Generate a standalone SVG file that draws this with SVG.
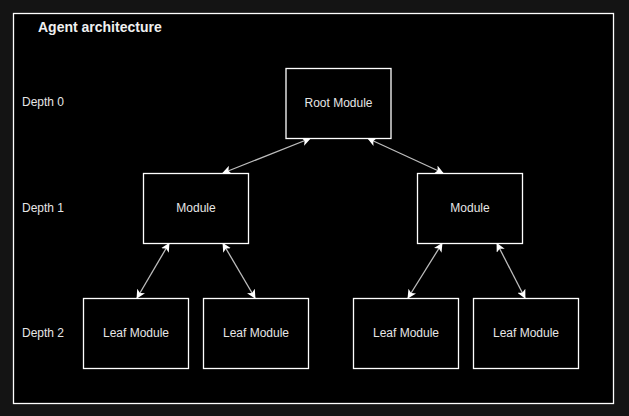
<svg xmlns="http://www.w3.org/2000/svg" width="629" height="416" viewBox="0 0 629 416">
<style>
.box{fill:#000;stroke:#fff;stroke-width:1.3}
.lbl{font-family:"Liberation Sans",Arial,sans-serif;font-size:12px;fill:#e6e6e6;text-anchor:middle;dominant-baseline:central}
.dep{font-family:"Liberation Sans",Arial,sans-serif;font-size:12px;fill:#e6e6e6;dominant-baseline:central}
.edge{stroke:#bdbdbd;stroke-width:1.3;fill:none;marker-start:url(#ah);marker-end:url(#ah)}
</style>
<defs>
<marker id="ah" viewBox="0 0 10 10" refX="9" refY="5" markerWidth="9" markerHeight="9" markerUnits="userSpaceOnUse" orient="auto-start-reverse">
<path d="M0,0 L10,5 L0,10 L2.5,5 Z" fill="#fff"/>
</marker>
</defs>
<rect x="0" y="0" width="629" height="416" fill="#141414"/>
<g id="container">
<rect x="13.5" y="13.5" width="600" height="390" fill="#000" stroke="#fff" stroke-width="1.3"/>
<text x="38" y="27" font-family="Liberation Sans,Arial,sans-serif" font-size="14" font-weight="bold" fill="#f0f0f0" dominant-baseline="central">Agent architecture</text>
</g>
<g id="depth-labels">
<text class="dep" x="22" y="102">Depth 0</text>
<text class="dep" x="22" y="208">Depth 1</text>
<text class="dep" x="22" y="333">Depth 2</text>
</g>
<g id="edges">
<line class="edge" x1="310" y1="138.5" x2="223" y2="173"/>
<line class="edge" x1="368" y1="138.5" x2="443" y2="173"/>
<line class="edge" x1="169" y1="243.5" x2="137" y2="298"/>
<line class="edge" x1="223" y1="243.5" x2="255" y2="298"/>
<line class="edge" x1="442" y1="243.5" x2="408" y2="298"/>
<line class="edge" x1="497" y1="243.5" x2="525" y2="298"/>
</g>
<g id="root"><rect class="box" x="286" y="68.5" width="105" height="70"/><text class="lbl" x="338.5" y="103">Root Module</text></g>
<g id="module-left"><rect class="box" x="143.5" y="173.5" width="105" height="70"/><text class="lbl" x="196" y="208">Module</text></g>
<g id="module-right"><rect class="box" x="417.5" y="173.5" width="105" height="70"/><text class="lbl" x="470" y="208">Module</text></g>
<g id="leaf-1"><rect class="box" x="83.5" y="298.5" width="105" height="70"/><text class="lbl" x="136" y="333">Leaf Module</text></g>
<g id="leaf-2"><rect class="box" x="203.5" y="298.5" width="105" height="70"/><text class="lbl" x="256" y="333">Leaf Module</text></g>
<g id="leaf-3"><rect class="box" x="353.5" y="298.5" width="105" height="70"/><text class="lbl" x="406" y="333">Leaf Module</text></g>
<g id="leaf-4"><rect class="box" x="473.5" y="298.5" width="105" height="70"/><text class="lbl" x="526" y="333">Leaf Module</text></g>
</svg>
